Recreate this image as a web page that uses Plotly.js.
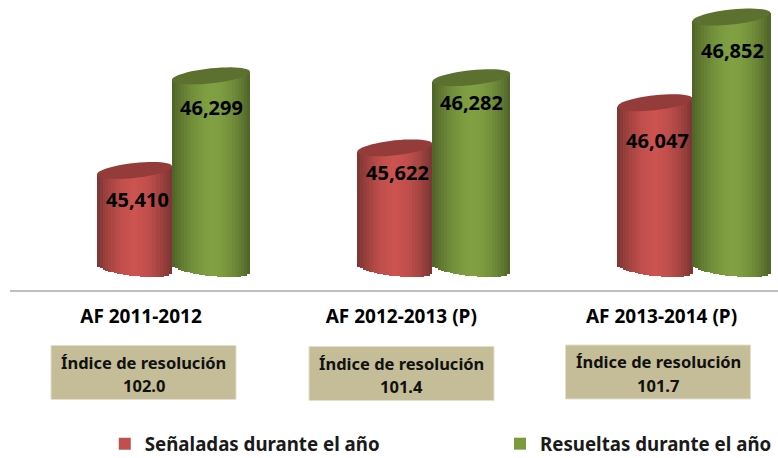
<!DOCTYPE html>
<html><head><meta charset="utf-8">
<script src="https://cdn.plot.ly/plotly-3.0.1.min.js"></script>
<style>html,body{margin:0;padding:0;background:#fff;overflow:hidden}</style>
</head><body><div id="chart" style="width:778px;height:458px"></div>
<script>
const categories = ['AF 2011-2012', 'AF 2012-2013 (P)', 'AF 2013-2014 (P)'];
const senaladas = [45410, 45622, 46047];
const resueltas = [46299, 46282, 46852];
const indice = ['102.0', '101.4', '101.7'];
const seriesNames = ['Señaladas durante el año', 'Resueltas durante el año'];
const indiceTitle = 'Índice de resolución';

const FONT = '"Noto Sans", sans-serif';
const W = 778, H = 458, ML = 10, AXIS_PX = 291;
const unitsPerPx = 9.4;
const yMax = 47012, yMin = yMax - H * unitsPerPx, baseV = 44488;
const pxX = 260.25;                 // px per group
const x0 = -(172 - ML) / pxX, x1 = x0 + (W - ML) / pxX;
const tilt = 4, minor = 7.5;        // px
const hexMix = (a, b, t) => 'rgb(' + a.map((v, i) => Math.round(v + (b[i] - v) * t)).join(',') + ')';

function stripes(values, side, halfPx, edge, mid, peak) {
  const n = 26, xs = [], ys = [], bases = [], widths = [], colors = [];
  values.forEach((v, g) => {
    const c = g + side * halfPx / pxX;
    for (let k = 0; k < n; k++) {
      const u = -1 + (2 * k + 1) / n;
      const w = Math.sqrt(Math.max(0, 1 - u * u));
      const b = baseV - (minor * w + tilt * u) * unitsPerPx;
      const t = v + tilt * u * unitsPerPx;
      xs.push(c + u * halfPx / pxX);
      widths.push(2 * halfPx / pxX / n * 1.12);
      ys.push(t - b);
      bases.push(b);
      const d = Math.min(1, Math.abs(u - peak) / (u > peak ? 1 - peak : 1 + peak));
      colors.push(hexMix(mid, edge, Math.pow(d, 1.8)));
    }
  });
  return {type: 'bar', x: xs, y: ys, base: bases, width: widths, showlegend: false, hoverinfo: 'skip',
          marker: {color: colors, line: {width: 0}}};
}
function cap(i, v, side, halfPx, color) {
  const c = i + side * halfPx / pxX, pts = [];
  for (let k = 0; k < 48; k++) {
    const t = k / 48 * 2 * Math.PI, cu = Math.cos(t);
    pts.push((c + cu * halfPx / pxX).toFixed(5) + ',' + (v + (tilt * cu + minor * Math.sin(t)) * unitsPerPx).toFixed(2));
  }
  return {type: 'path', xref: 'x', yref: 'y', layer: 'above', path: 'M' + pts.join('L') + 'Z',
          fillcolor: color, line: {width: 0}};
}
const RED = {half: 37.5, edge: [122, 52, 50], mid: [203, 83, 80], cap: '#933c3a', side: -1};
const GRN = {half: 39, edge: [78, 98, 39], mid: [128, 160, 66], cap: '#5c7130', side: 1};

const legendDummy = (name, color, legend) => ({type: 'bar', name, legend, x: [0], y: [0], base: [yMin], showlegend: true, hoverinfo: 'skip', marker: {color}});
const data = [
  stripes(senaladas, RED.side, RED.half, RED.edge, RED.mid, 0.0),
  stripes(resueltas, GRN.side, GRN.half, GRN.edge, GRN.mid, 0.05),
  legendDummy(seriesNames[0], '#c0504d', 'legend'),
  legendDummy(seriesNames[1], '#7a9a3c', 'legend2')
];

const shapes = [];
const annotations = [];
const dropRed = [29, 25, 38], dropGrn = [32, 25, 33];
const boxCx = [143.5, 401.5, 658], boxCy = [372.5, 373.5, 372];
const py = p => (H - p) / H;
categories.forEach((c, i) => {
  shapes.push(cap(i, senaladas[i], RED.side, RED.half, RED.cap));
  shapes.push(cap(i, resueltas[i], GRN.side, GRN.half, GRN.cap));
  const lab = (v, drop, dx) => annotations.push({xref: 'x', yref: 'y', x: i + dx / pxX, y: v - drop * unitsPerPx,
    xanchor: 'center', yanchor: 'middle',
    text: v.toLocaleString('en-US'), showarrow: false, font: {family: FONT, size: 20, color: '#000', weight: 700}});
  lab(senaladas[i], dropRed[i], -35);
  lab(resueltas[i], dropGrn[i], 39.5);
  const bx = (boxCx[i] - ML) / (W - ML);
  shapes.push({type: 'rect', xref: 'paper', yref: 'paper', layer: 'above',
    x0: bx - 92.5 / (W - ML), x1: bx + 92.5 / (W - ML), y0: py(boxCy[i] + 27), y1: py(boxCy[i] - 27),
    fillcolor: '#c4bd97', line: {color: '#e2dfcd', width: 1}});
  annotations.push({xref: 'paper', yref: 'paper', x: bx, y: py(boxCy[i] - 10.5), text: indiceTitle, showarrow: false,
    xanchor: 'center', yanchor: 'middle', font: {family: FONT, size: 16.5, color: '#111', weight: 700}});
  annotations.push({xref: 'paper', yref: 'paper', x: bx, y: py(boxCy[i] + 13), text: indice[i], showarrow: false,
    xanchor: 'center', yanchor: 'middle', font: {family: FONT, size: 16.5, color: '#111', weight: 700}});
});

const legendBase = {orientation: 'h', xanchor: 'left', yanchor: 'top', y: 0.072,
  bgcolor: 'rgba(0,0,0,0)', font: {family: FONT, size: 18.7, color: '#1a1a1a', weight: 700}};
const layout = {
  width: W, height: H, paper_bgcolor: '#fff', plot_bgcolor: '#fff',
  margin: {l: ML, r: 0, t: 0, b: 0, pad: 0, autoexpand: false},
  barmode: 'overlay', bargap: 0,
  xaxis: {range: [x0, x1], anchor: 'free', position: py(AXIS_PX), tickmode: 'array',
    tickvals: categories.map((_, i) => i - 31 / pxX), ticktext: categories,
    showgrid: false, zeroline: false, showline: true, linecolor: '#bfbfbf', linewidth: 2, ticks: '',
    tickfont: {family: FONT, size: 19, color: '#000', weight: 700}, ticklabelstandoff: 8, automargin: false, fixedrange: true},
  yaxis: {range: [yMin, yMax], visible: false, fixedrange: true},
  showlegend: true,
  legend: Object.assign({x: 0.1234}, legendBase),
  legend2: Object.assign({x: 0.638}, legendBase),
  shapes, annotations
};
Plotly.newPlot('chart', data, layout, {displayModeBar: false, staticPlot: true});
</script></body></html>
